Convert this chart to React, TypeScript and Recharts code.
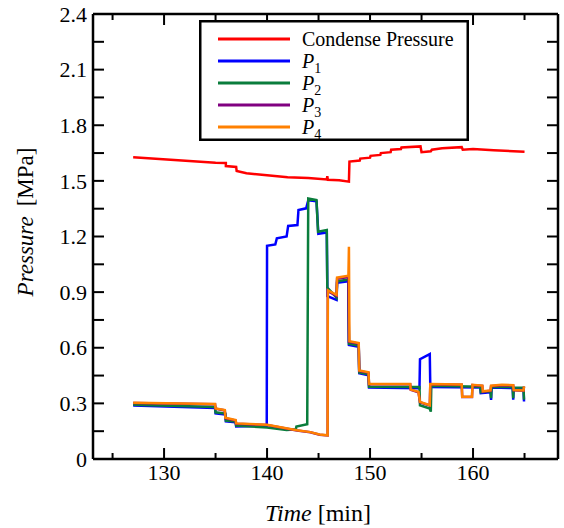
import { LineChart, Line, XAxis, YAxis } from 'recharts'

// time [min] and pressure [MPa]
const condenseTime = [127.0, 135.0, 136.0, 136.0, 137.0, 137.05, 138.0, 140.0, 142.0, 144.0, 145.8, 145.85, 145.9, 147.0, 147.95, 148.0, 149.0, 149.05, 150.0, 150.05, 151.0, 151.05, 152.0, 152.05, 153.0, 153.05, 154.9, 155.0, 155.9, 156.0, 157.0, 158.9, 159.0, 160.0, 162.0, 165.0]
const condensePressure = [1.627, 1.598, 1.596, 1.58, 1.575, 1.553, 1.541, 1.53, 1.52, 1.515, 1.508, 1.525, 1.506, 1.503, 1.496, 1.604, 1.61, 1.62, 1.625, 1.635, 1.64, 1.65, 1.655, 1.668, 1.672, 1.68, 1.686, 1.655, 1.66, 1.668, 1.676, 1.682, 1.668, 1.672, 1.665, 1.657]

const p1Time = [127.0, 134.95, 135.0, 135.95, 136.0, 136.95, 137.0, 139.97, 140.0, 140.8, 140.95, 141.9, 142.05, 142.95, 143.05, 143.8, 144.0, 144.8, 144.98, 145.8, 145.86, 146.75, 146.8, 147.9, 147.95, 148.9, 148.95, 149.85, 149.9, 154.8, 154.85, 155.8, 155.85, 160.7, 160.75, 161.7, 161.75, 161.8, 163.85, 163.9, 163.95, 164.9, 164.95]
const p1Pressure = [0.288, 0.275, 0.246, 0.24, 0.203, 0.198, 0.175, 0.18, 1.15, 1.157, 1.19, 1.2, 1.257, 1.262, 1.343, 1.352, 1.395, 1.39, 1.215, 1.222, 0.878, 0.858, 0.95, 0.958, 0.615, 0.605, 0.462, 0.452, 0.385, 0.381, 0.538, 0.566, 0.388, 0.385, 0.355, 0.36, 0.318, 0.385, 0.383, 0.32, 0.382, 0.38, 0.31]

const p2Time = [127.0, 134.95, 135.0, 135.95, 136.0, 136.95, 137.0, 140.0, 141.9, 142.8, 142.85, 143.9, 144.0, 144.8, 144.95, 145.8, 145.85, 146.75, 146.8, 147.9, 147.95, 148.9, 148.95, 149.85, 149.9, 154.8, 154.85, 155.8, 155.9, 155.95, 160.7, 160.75, 161.7, 161.75, 161.8, 163.85, 163.9, 163.95, 164.9, 164.95]
const p2Pressure = [0.292, 0.28, 0.252, 0.245, 0.207, 0.202, 0.18, 0.17, 0.156, 0.16, 0.175, 0.187, 1.405, 1.397, 1.226, 1.235, 0.925, 0.87, 0.958, 0.968, 0.622, 0.612, 0.467, 0.457, 0.39, 0.388, 0.29, 0.272, 0.255, 0.395, 0.39, 0.36, 0.365, 0.328, 0.39, 0.388, 0.328, 0.386, 0.385, 0.32]

const p3Time = [127.0, 134.95, 135.0, 135.9, 135.95, 136.95, 137.0, 140.0, 142.9, 144.2, 145.1, 145.88, 145.9, 146.75, 146.8, 147.9, 147.95, 148.9, 148.95, 149.85, 149.9, 153.9, 153.95, 154.7, 154.85, 155.8, 155.85, 158.9, 158.95, 159.9, 159.95, 160.9, 160.95, 161.7, 161.75, 162.8, 163.9, 163.95, 164.9, 164.95]
const p3Pressure = [0.302, 0.295, 0.271, 0.262, 0.22, 0.208, 0.19, 0.183, 0.154, 0.144, 0.131, 0.127, 0.905, 0.88, 0.972, 0.982, 0.632, 0.622, 0.475, 0.465, 0.403, 0.403, 0.373, 0.36, 0.306, 0.288, 0.403, 0.4, 0.334, 0.334, 0.398, 0.394, 0.363, 0.368, 0.393, 0.398, 0.396, 0.37, 0.368, 0.39]

const p4Time = [127.0, 134.95, 135.0, 135.9, 135.95, 136.95, 137.0, 140.0, 142.9, 144.2, 145.1, 145.88, 145.9, 146.75, 146.8, 147.9, 147.95, 148.0, 148.9, 148.95, 149.85, 149.9, 153.9, 153.95, 154.7, 154.85, 155.8, 155.85, 158.9, 158.95, 159.9, 159.95, 160.9, 160.95, 161.7, 161.75, 162.8, 163.9, 163.95, 164.9, 164.95]
const p4Pressure = [0.304, 0.297, 0.273, 0.264, 0.222, 0.21, 0.192, 0.185, 0.155, 0.145, 0.132, 0.128, 0.91, 0.885, 0.978, 0.988, 1.145, 0.635, 0.625, 0.478, 0.468, 0.405, 0.405, 0.375, 0.362, 0.308, 0.29, 0.405, 0.402, 0.336, 0.336, 0.4, 0.396, 0.365, 0.37, 0.395, 0.4, 0.398, 0.372, 0.37, 0.392]

const xTicks = [125, 130, 135, 140, 145, 150, 155, 160, 165]
const yTicks = [0, 0.15, 0.3, 0.45, 0.6, 0.75, 0.9, 1.05, 1.2, 1.35, 1.5, 1.65, 1.8, 1.95, 2.1, 2.25, 2.4]

const toPoints = (t: number[], v: number[]) => t.map((x, i) => ({ t: x, v: v[i] }))

const series = [
  { key: 'cp', label: 'Condense Pressure', sub: '', color: '#ff0000', data: toPoints(condenseTime, condensePressure) },
  { key: 'p1', label: 'P', sub: '1', color: '#0000ff', data: toPoints(p1Time, p1Pressure) },
  { key: 'p2', label: 'P', sub: '2', color: '#0a7d3c', data: toPoints(p2Time, p2Pressure) },
  { key: 'p3', label: 'P', sub: '3', color: '#800080', data: toPoints(p3Time, p3Pressure) },
  { key: 'p4', label: 'P', sub: '4', color: '#ff8000', data: toPoints(p4Time, p4Pressure) },
]

const FONT = '"Liberation Serif", "Times New Roman", serif'
const xDomain = [123.1, 168.25]
const isMajorY = (v: number) => Math.round(v * 100) % 30 === 0

const BottomTick = ({ x, y, payload }: any) => {
  const major = payload.value % 10 === 0
  return (
    <g>
      <line x1={x} y1={y} x2={x} y2={y - (major ? 11 : 6)} stroke="#000" strokeWidth={2} />
      {major && (
        <text x={x} y={y + 21} textAnchor="middle" fontSize={22} fontFamily={FONT} fill="#000">
          {payload.value}
        </text>
      )}
    </g>
  )
}

const TopTick = ({ x, y, payload }: any) => {
  const major = payload.value % 10 === 0
  return <line x1={x} y1={y} x2={x} y2={y + (major ? 11 : 6)} stroke="#000" strokeWidth={2} />
}

const LeftTick = ({ x, y, payload }: any) => {
  const v = payload.value
  return (
    <g>
      <line x1={x} y1={y} x2={x + 11} y2={y} stroke="#000" strokeWidth={2} />
      {isMajorY(v) && (
        <text x={x - 6} y={y} dy="0.35em" textAnchor="end" fontSize={22} fontFamily={FONT} fill="#000">
          {v === 0 ? '0' : v.toFixed(1)}
        </text>
      )}
    </g>
  )
}

const RightTick = ({ x, y }: any) => (
  <line x1={x} y1={y} x2={x - 11} y2={y} stroke="#000" strokeWidth={2} />
)

const axisLine = { stroke: '#000', strokeWidth: 2.5 }

export default function App() {
  return (
    <div style={{ position: 'absolute', left: 0, top: 0, width: 564, height: 528, background: '#fff' }}>
      <LineChart width={564} height={528} margin={{ top: 13, right: 5, bottom: 0, left: 0 }}>
        <XAxis
          dataKey="t"
          type="number"
          domain={xDomain}
          allowDataOverflow
          ticks={xTicks}
          interval={0}
          height={69}
          tickSize={0}
          tickMargin={0}
          axisLine={axisLine}
          tick={BottomTick}
          label={{
            content: () => (
              <text x={318} y={521} textAnchor="middle" fontSize={24} fontFamily={FONT} fill="#000">
                <tspan fontStyle="italic">Time</tspan>
                {' [min]'}
              </text>
            ),
          }}
        />
        <XAxis
          xAxisId="top"
          orientation="top"
          dataKey="t"
          type="number"
          domain={xDomain}
          allowDataOverflow
          ticks={xTicks}
          interval={0}
          height={1}
          tickSize={0}
          tickMargin={0}
          axisLine={axisLine}
          tick={TopTick}
        />
        <YAxis
          type="number"
          domain={[0, 2.4]}
          allowDataOverflow
          ticks={yTicks}
          interval={0}
          width={93}
          tickSize={0}
          tickMargin={0}
          axisLine={axisLine}
          tick={LeftTick}
          label={{
            content: () => (
              <text
                x={33}
                y={222}
                transform="rotate(-90, 33, 222)"
                textAnchor="middle"
                fontSize={23}
                fontFamily={FONT}
                fill="#000"
              >
                <tspan fontStyle="italic">Pressure</tspan>
                <tspan dx={10}>[MPa]</tspan>
              </text>
            ),
          }}
        />
        <YAxis
          yAxisId="right"
          orientation="right"
          type="number"
          domain={[0, 2.4]}
          allowDataOverflow
          ticks={yTicks}
          interval={0}
          width={1}
          tickSize={0}
          tickMargin={0}
          axisLine={axisLine}
          tick={RightTick}
        />
        {series.map((s) => (
          <Line
            key={s.key}
            data={s.data}
            dataKey="v"
            type="linear"
            stroke={s.color}
            strokeWidth={2.5}
            dot={false}
            activeDot={false}
            isAnimationActive={false}
          />
        ))}
      </LineChart>
      <svg
        width={270}
        height={121}
        style={{ position: 'absolute', left: 199, top: 20 }}
      >
        <rect x={1.25} y={1.25} width={267.5} height={118.5} fill="#fff" stroke="#000" strokeWidth={2.5} />
        {series.map((s, i) => {
          const cy = 19 + i * 22
          return (
            <g key={s.key}>
              <line x1={19} y1={cy} x2={91} y2={cy} stroke={s.color} strokeWidth={3} />
              <text x={103} y={cy + 7} fontSize={20} fontFamily={FONT} fill="#000">
                {s.sub ? (
                  <>
                    <tspan fontStyle="italic">{s.label}</tspan>
                    <tspan fontSize={14} dy={5}>{s.sub}</tspan>
                  </>
                ) : (
                  s.label
                )}
              </text>
            </g>
          )
        })}
      </svg>
    </div>
  )
}
